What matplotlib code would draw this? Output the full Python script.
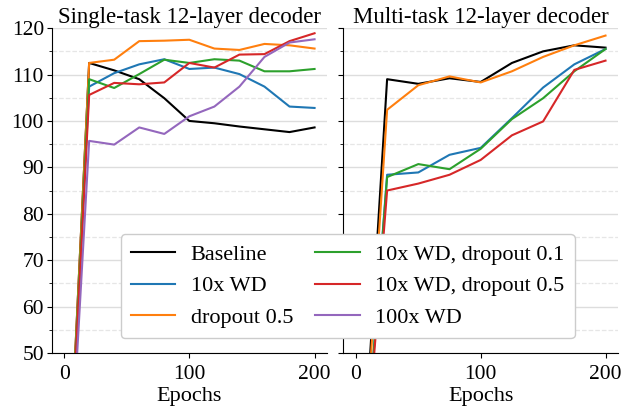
import matplotlib
matplotlib.use("Agg")
import matplotlib.pyplot as plt
from matplotlib.ticker import MultipleLocator

plt.rcParams['font.family'] = ['Liberation Serif', 'DejaVu Serif']
plt.rcParams['font.size'] = 16

labels = ["Baseline", "10x WD", "dropout 0.5", "10x WD, dropout 0.1",
          "10x WD, dropout 0.5", "100x WD"]
colors = ["black", "tab:blue", "tab:orange", "tab:green", "tab:red", "tab:purple"]

# Single-task panel
epochs_single = [0, 20, 40, 60, 80, 100, 120, 140, 160, 180, 200]
single_baseline = [0, 112.5, 110.9, 109.0, 104.9, 100.0, 99.5, 98.8, 98.2, 97.6, 98.6]
single_wd10 = [0, 107.4, 110.3, 112.2, 113.3, 111.2, 111.5, 110.1, 107.4, 103.1, 102.8]
single_drop05 = [0, 112.5, 113.2, 117.2, 117.3, 117.5, 115.6, 115.3, 116.6, 116.3, 115.6]
single_wd10_drop01 = [0, 109.0, 107.1, 110.1, 113.2, 112.5, 113.3, 113.0, 110.7, 110.7, 111.2]
single_wd10_drop05 = [0, 105.6, 108.2, 107.9, 108.3, 112.5, 111.5, 114.3, 114.4, 117.2, 118.9]
single_wd100 = [0, 95.7, 94.9, 98.6, 97.2, 101.0, 103.1, 107.4, 113.8, 116.9, 117.6]

# Multi-task panel
epochs_multi = [0, 25, 50, 75, 100, 125, 150, 175, 200]
multi_baseline = [0, 109.0, 108.0, 109.2, 108.4, 112.5, 115.0, 116.3, 115.8]
multi_wd10 = [0, 88.4, 88.9, 92.7, 94.2, 100.6, 107.2, 112.2, 115.5]
multi_drop05 = [0, 102.4, 107.7, 109.6, 108.3, 110.7, 113.8, 116.3, 118.4]
multi_wd10_drop01 = [0, 87.9, 90.7, 89.6, 94.0, 100.4, 104.9, 110.7, 115.5]
multi_wd10_drop05 = [0, 85.0, 86.5, 88.4, 91.6, 96.9, 99.9, 111.0, 113.0]

fig = plt.figure(figsize=(6.29, 4.08), dpi=100)
ax1 = fig.add_axes([0.082, 0.135, 0.438, 0.796])
ax2 = fig.add_axes([0.546, 0.135, 0.4365, 0.796], sharey=ax1)

single = [single_baseline, single_wd10, single_drop05, single_wd10_drop01,
          single_wd10_drop05, single_wd100]
multi = [multi_baseline, multi_wd10, multi_drop05, multi_wd10_drop01,
         multi_wd10_drop05]

handles = []
for lab, col, ys in zip(labels, colors, single):
    h, = ax1.plot(epochs_single, ys, color=col, lw=1.5, label=lab)
    handles.append(h)
for lab, col, ys in zip(labels, colors, multi):
    ax2.plot(epochs_multi, ys, color=col, lw=1.5, label=lab)

for ax, title in [(ax1, "Single-task 12-layer decoder"),
                  (ax2, "Multi-task 12-layer decoder")]:
    ax.set_title(title, fontsize=16.5, pad=3)
    ax.set_xlabel("Epochs", labelpad=2)
    ax.set_xlim(-10, 210)
    ax.set_ylim(50, 120)
    ax.set_xticks([0, 100, 200])
    ax.yaxis.set_major_locator(MultipleLocator(10))
    ax.yaxis.set_minor_locator(MultipleLocator(5))
    ax.grid(True, which='major', axis='y', color='#dddddd', lw=1.0)
    ax.grid(True, which='minor', axis='y', color='#e6e6e6', lw=0.9, ls='--')
    ax.set_axisbelow(True)
    for s in ['top', 'right']:
        ax.spines[s].set_visible(False)
    ax.tick_params(axis='both', which='major', length=3.5, labelsize=15.5, pad=2)
    ax.tick_params(axis='x', which='major', pad=5)
    ax.tick_params(axis='y', which='minor', length=2)

plt.setp(ax2.get_yticklabels(), visible=False)

fig.legend(handles=handles, labels=labels, ncol=2, loc='center',
           bbox_to_anchor=(0.5525, 0.299), fontsize=16, framealpha=1.0,
           edgecolor='#cccccc', handlelength=2.0, columnspacing=1.0,
           borderpad=0.45, labelspacing=0.5, handletextpad=0.7)

fig.savefig("out.png", dpi=100)
